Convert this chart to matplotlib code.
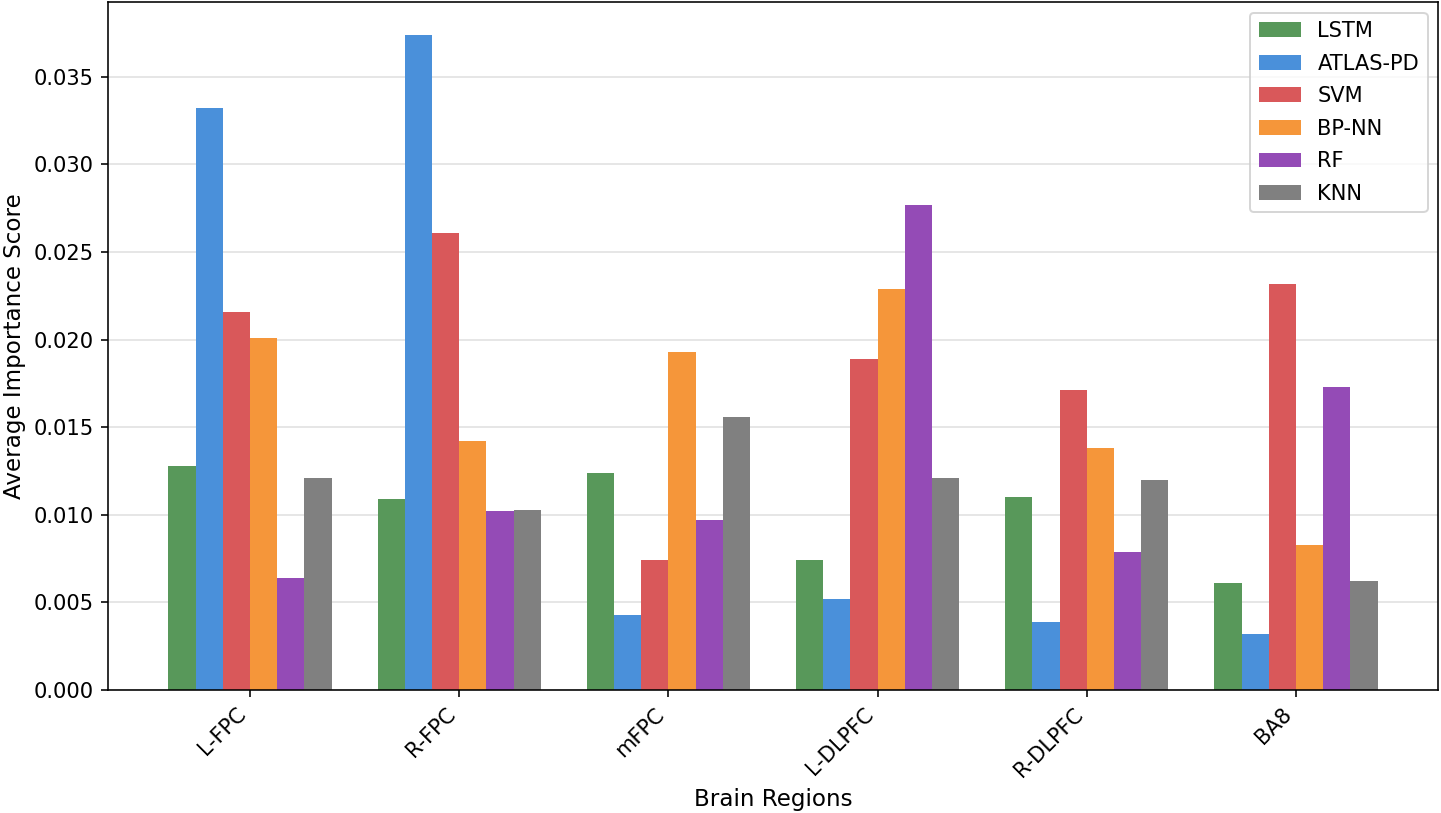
import numpy as np
import matplotlib
matplotlib.use("Agg")
import matplotlib.pyplot as plt

regions = ["L-FPC", "R-FPC", "mFPC", "L-DLPFC", "R-DLPFC", "BA8"]
models = ["LSTM", "ATLAS-PD", "SVM", "BP-NN", "RF", "KNN"]

lstm = [0.0128, 0.0109, 0.0124, 0.0074, 0.0110, 0.0061]
atlas_pd = [0.0332, 0.0374, 0.0043, 0.0052, 0.0039, 0.0032]
svm = [0.0216, 0.0261, 0.0074, 0.0189, 0.0171, 0.0232]
bp_nn = [0.0201, 0.0142, 0.0193, 0.0229, 0.0138, 0.0083]
rf = [0.0064, 0.0102, 0.0097, 0.0277, 0.0079, 0.0173]
knn = [0.0121, 0.0103, 0.0156, 0.0121, 0.0120, 0.0062]

colors = ["#58985a", "#4a90da", "#d9585a", "#f5963a", "#944bb6", "#808080"]

fig = plt.figure(figsize=(1441/144, 813/144), dpi=144)
ax = fig.add_axes([108/1441, 1-690/813, (1438-108)/1441, (690-2)/813])

x = np.arange(len(regions))
w = 0.78 / len(models)
series = [lstm, atlas_pd, svm, bp_nn, rf, knn]
for i, (name, vals) in enumerate(zip(models, series)):
    ax.bar(x + (i - 2.5) * w, vals, w, label=name, color=colors[i], zorder=2)

ax.set_xticks(x)
ax.set_xticklabels(regions, rotation=45, ha="right")
ax.tick_params(labelsize=10.5)
ax.set_xlabel("Brain Regions", fontsize=11.5)
ax.set_ylabel("Average Importance Score", fontsize=11.5)
ax.yaxis.grid(True, color="#e6e6e6", linewidth=1, zorder=0)
ax.set_axisbelow(True)
ax.legend(loc="upper right", fontsize=10.5, handlelength=2.0, labelspacing=0.6)

fig.savefig("out.png", dpi=144)
